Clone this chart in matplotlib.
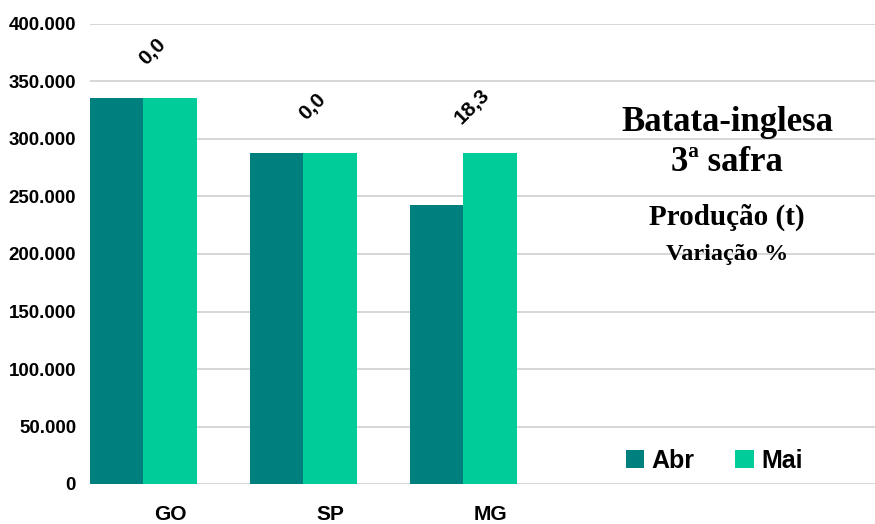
import numpy as np
import matplotlib.pyplot as plt
from matplotlib.ticker import FuncFormatter

# dados
estados = ['GO', 'SP', 'MG']
abr = [336000, 288000, 243000]
mai = [336000, 288000, 288000]
variacao = ['0,0', '0,0', '18,3']

cor_abr = '#007F7F'
cor_mai = '#00CC99'

fig = plt.figure(figsize=(8.75, 5.24), dpi=100)
ax = fig.add_axes([90/875, 1-484/524, 785/875, 460/524])

x = np.arange(len(estados))
w = 0.333
ax.bar(x + w/2, abr, width=w, color=cor_abr, label='Abr', zorder=3)
ax.bar(x + 1.5*w, mai, width=w, color=cor_mai, label='Mai', zorder=3)

# rotulos de variacao
for i in range(len(estados)):
    ax.text(x[i] + 0.39, mai[i] + 40000, variacao[i], rotation=45,
            ha='center', va='center', fontsize=15, fontweight='bold',
            family='Liberation Sans')

ax.set_xlim(0, 785/160)
ax.set_ylim(0, 400000)
ax.set_yticks(np.arange(0, 400001, 50000))
ax.yaxis.set_major_formatter(FuncFormatter(lambda v, p: f'{int(v):,}'.replace(',', '.')))
ax.set_xticks(x + 0.5)
ax.set_xticklabels(estados)
ax.tick_params(axis='both', length=0)
ax.tick_params(axis='y', pad=10)
ax.tick_params(axis='x', pad=15)
for lab in ax.get_yticklabels():
    lab.set_fontweight('bold')
    lab.set_fontsize(13.5)
    lab.set_family('Liberation Sans')
for lab in ax.get_xticklabels():
    lab.set_fontweight('bold')
    lab.set_fontsize(15)
    lab.set_family('Liberation Sans')

ax.grid(axis='y', color='#D0D0D0', linewidth=1.2, zorder=0)
for s in ax.spines.values():
    s.set_visible(False)

# titulo dentro do grafico
tx = 727/875
fig.text(tx, 1-131/524, 'Batata-inglesa', ha='center', va='baseline',
         fontsize=25, fontweight='bold', family='Liberation Serif')
fig.text(tx, 1-171/524, '3ª safra', ha='center', va='baseline',
         fontsize=25, fontweight='bold', family='Liberation Serif')
fig.text(tx, 1-225/524, 'Produção (t)', ha='center', va='baseline',
         fontsize=21, fontweight='bold', family='Liberation Serif')
fig.text(tx, 1-260/524, 'Variação %', ha='center', va='baseline',
         fontsize=17.5, fontweight='bold', family='Liberation Serif')

leg = fig.legend(loc='center', bbox_to_anchor=(714/875, 1-461/524), ncol=2,
                 frameon=False, handlelength=0.75, handleheight=0.75,
                 handletextpad=0.3, columnspacing=1.6,
                 prop={'family': 'Liberation Sans', 'weight': 'bold', 'size': 18})

fig.savefig('out.png', dpi=100)
